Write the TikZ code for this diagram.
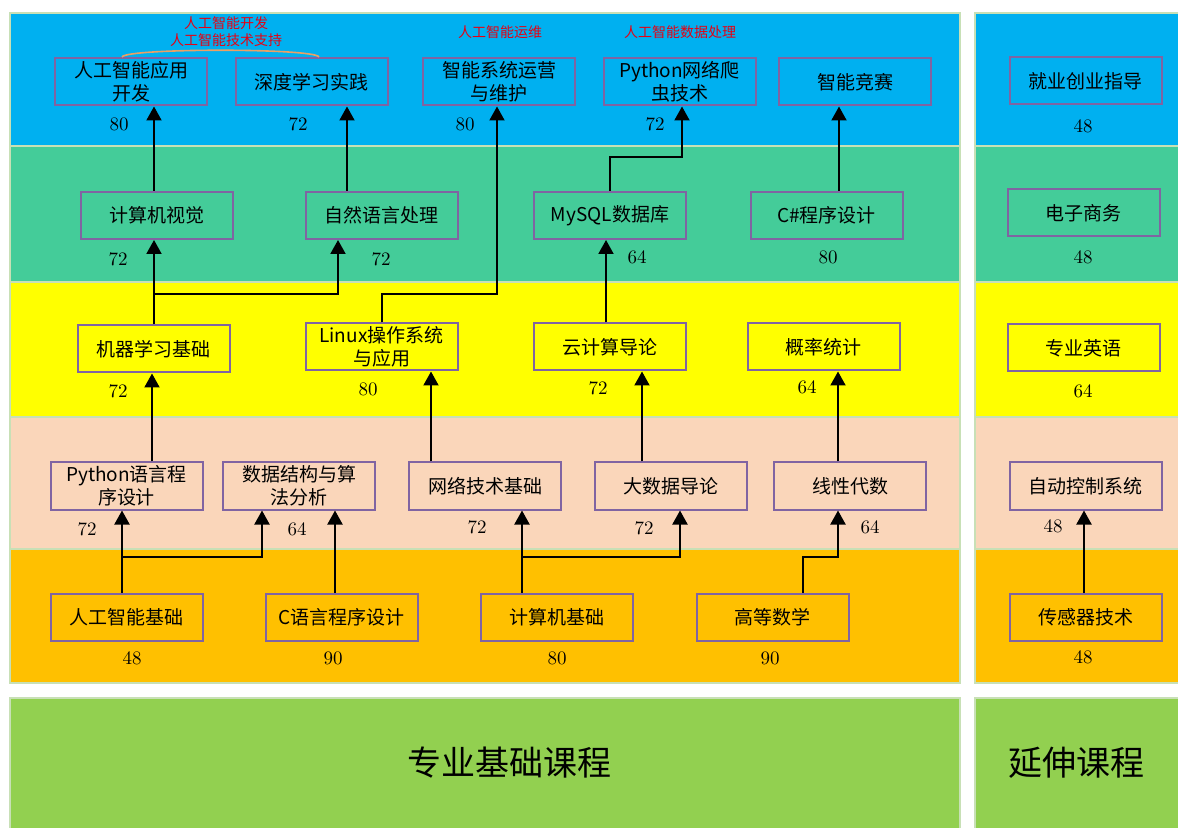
\documentclass[tikz,border=0pt]{standalone}
\usepackage{fontspec}
\newfontfamily\cjk{Noto Sans CJK SC}
\usetikzlibrary{arrows.meta}
\definecolor{bandblue}{RGB}{0,176,240}
\definecolor{bandgreen}{RGB}{68,204,153}
\definecolor{bandyellow}{RGB}{255,255,0}
\definecolor{bandpeach}{RGB}{250,214,186}
\definecolor{bandorange}{RGB}{255,192,0}
\definecolor{bandlime}{RGB}{146,208,80}
\definecolor{bandedge}{RGB}{200,224,182}
\definecolor{crsedge}{RGB}{128,100,162}
\definecolor{notered}{RGB}{230,0,18}
\definecolor{arcorange}{RGB}{236,160,100}
\begin{document}
\begin{tikzpicture}[
            x=0.5pt, y=-0.5pt,
            >={Triangle[width=7.5pt,length=7pt]},
            band/.style={draw=bandedge, line width=0.8pt},
            crs/.style={draw=crsedge, line width=1pt, rectangle, align=center,
                minimum width=76pt, minimum height=23.5pt, inner sep=1pt,
                font=\cjk\fontsize{9.5}{11.5}\selectfont},
            hrs/.style={font=\fontsize{9.5}{11}\selectfont},
            note/.style={text=notered, font=\cjk\fontsize{7}{8}\selectfont},
            cat/.style={font=\cjk\fontsize{17}{20}\selectfont},
            arr/.style={->, line width=1pt}
        ]
           \useasboundingbox (0,0) rectangle (1178,828);
           \fill[white] (0,0) rectangle (1178,828);

           % bands
           \fill[bandblue, band] (10,13) rectangle (960,146);
           \fill[bandgreen, band] (10,146) rectangle (960,282);
           \fill[bandyellow, band] (10,282) rectangle (960,417);
           \fill[bandpeach, band] (10,417) rectangle (960,549);
           \fill[bandorange, band] (10,549) rectangle (960,683);
           \fill[bandlime, band] (10,698) rectangle (960,835);

           \fill[bandblue, band] (975,13) rectangle (1190,146);
           \fill[bandgreen, band] (975,146) rectangle (1190,282);
           \fill[bandyellow, band] (975,282) rectangle (1190,417);
           \fill[bandpeach, band] (975,417) rectangle (1190,549);
           \fill[bandorange, band] (975,549) rectangle (1190,683);
           \fill[bandlime, band] (975,698) rectangle (1190,835);

           % top row
           \node[crs] (aidev) at (131,82) {人工智能应用\\开发};
           \node[crs] (dlp) at (311.5,82) {深度学习实践};
           \node[crs] (isom) at (499,82) {智能系统运营\\与维护};
           \node[crs] (spider) at (679.5,82) {Python网络爬\\虫技术};
           \node[crs] (comp) at (855,82) {智能竞赛};

           \node[hrs] (haidev) at (119,124) {80};
           \node[hrs] (hdlp) at (298,124) {72};
           \node[hrs] (hisom) at (465,124) {80};
           \node[hrs] (hspider) at (655,124) {72};

           \node[note] (nai1) at (226,23) {人工智能开发};
           \node[note] (nai2) at (226,40) {人工智能技术支持};
           \node[note] (nops) at (500,32) {人工智能运维};
           \node[note] (ndata) at (680,32) {人工智能数据处理};
           \draw[arcorange, line width=0.8pt] (122,57) .. controls (126,48) and (315,48) .. (319,57);

           % second row
           \node[crs] (cv) at (157,215.5) {计算机视觉};
           \node[crs] (nlp) at (381.5,215.5) {自然语言处理};
           \node[crs] (sql) at (610,215.5) {MySQL数据库};
           \node[crs] (csharp) at (826.5,215.5) {C\#程序设计};

           \node[hrs] (hcv) at (118,259) {72};
           \node[hrs] (hnlp) at (381,259) {72};
           \node[hrs] (hsql) at (637,257) {64};
           \node[hrs] (hcsharp) at (828,257) {80};

           % third row
           \node[crs] (mlb) at (153.5,349) {机器学习基础};
           \node[crs] (linux) at (381.5,347) {Linux操作系统\\与应用};
           \node[crs] (cloud) at (609.5,347) {云计算导论};
           \node[crs] (prob) at (823.5,347) {概率统计};

           \node[hrs] (hmlb) at (118,391) {72};
           \node[hrs] (hlinux) at (368,389) {80};
           \node[hrs] (hcloud) at (598,388) {72};
           \node[hrs] (hprob) at (807,387) {64};

           % fourth row
           \node[crs] (pylang) at (126.5,486) {Python语言程\\序设计};
           \node[crs] (dsa) at (299,486) {数据结构与算\\法分析};
           \node[crs] (net) at (485,486) {网络技术基础};
           \node[crs] (bigdata) at (671,486) {大数据导论};
           \node[crs] (linalg) at (850,486) {线性代数};

           \node[hrs] (hpylang) at (87,529) {72};
           \node[hrs] (hdsa) at (297,529) {64};
           \node[hrs] (hnet) at (477,527) {72};
           \node[hrs] (hbigdata) at (644,528) {72};
           \node[hrs] (hlinalg) at (870,527) {64};

           % bottom row
           \node[crs] (aibase) at (126.5,617) {人工智能基础};
           \node[crs] (clang) at (341.5,617) {C语言程序设计};
           \node[crs] (cbase) at (557,617) {计算机基础};
           \node[crs] (math) at (772.5,617) {高等数学};

           \node[hrs] (haibase) at (132,658) {48};
           \node[hrs] (hclang) at (333,658) {90};
           \node[hrs] (hcbase) at (557,658) {80};
           \node[hrs] (hmath) at (770,658) {90};

           % extension column
           \node[crs] (career) at (1085.5,81) {就业创业指导};
           \node[crs] (ecom) at (1083.5,213) {电子商务};
           \node[crs] (eng) at (1083.5,348) {专业英语};
           \node[crs] (actrl) at (1085.5,486) {自动控制系统};
           \node[crs] (sensor) at (1085.5,617) {传感器技术};

           \node[hrs] (hcareer) at (1083,126) {48};
           \node[hrs] (hecom) at (1083,257) {48};
           \node[hrs] (heng) at (1083,391) {64};
           \node[hrs] (hactrl) at (1053,526) {48};
           \node[hrs] (hsensor) at (1083,657) {48};

           \node[cat] (base) at (509,763) {专业基础课程};
           \node[cat] (ext) at (1076,763) {延伸课程};

           % connectors
           \coordinate (ja) at (122,557);
           \coordinate (jb) at (522,557);
           \coordinate (jc) at (154,294);

           \draw[arr] (aibase.north -| ja) -- (pylang.south -| ja);
           \draw[arr] (ja) -| (dsa.south -| 262,0);
           \draw[arr] (clang.north -| 335,0) -- (dsa.south -| 335,0);
           \draw[arr] (cbase.north -| jb) -- (net.south -| jb);
           \draw[arr] (jb) -| (bigdata.south -| 680,0);
           \draw[arr] (math.north -| 803,0) -- (803,557) -| (linalg.south -| 838,0);

           \draw[arr] (pylang.north -| 152,0) -- (mlb.south -| 152,0);
           \draw[arr] (net.north -| 431,0) -- (linux.south -| 431,0);
           \draw[arr] (bigdata.north -| 642,0) -- (cloud.south -| 642,0);
           \draw[arr] (linalg.north -| 838,0) -- (prob.south -| 838,0);

           \draw[arr] (mlb.north -| jc) -- (cv.south -| jc);
           \draw[arr] (jc) -| (nlp.south -| 338,0);
           \draw[arr] (linux.north -| 382,0) -- (382,294) -| (isom.south -| 497,0);
           \draw[arr] (cloud.north -| 606,0) -- (sql.south -| 606,0);

           \draw[arr] (cv.north -| 154,0) -- (aidev.south -| 154,0);
           \draw[arr] (nlp.north -| 347,0) -- (dlp.south -| 347,0);
           \draw[arr] (sql.north -| 610,0) -- (610,157) -| (spider.south -| 682,0);
           \draw[arr] (csharp.north -| 839,0) -- (comp.south -| 839,0);

           \draw[arr] (sensor.north -| 1084,0) -- (actrl.south -| 1084,0);
        \end{tikzpicture}
\end{document}
